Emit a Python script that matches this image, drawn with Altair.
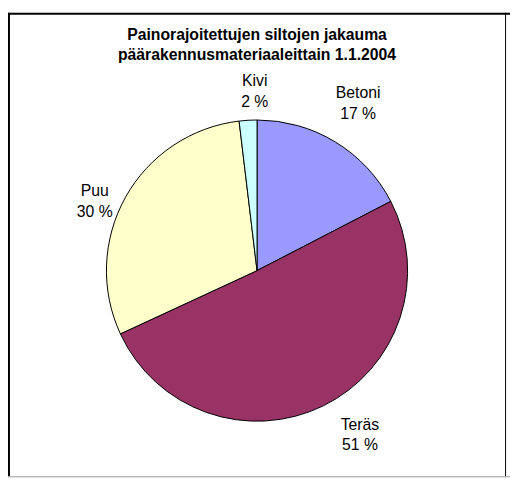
import altair as alt
import pandas as pd

categories = ["Betoni", "Teräs", "Puu", "Kivi"]
shares = [17.4, 50.7, 30.0, 1.9]
labels = ["17 %", "51 %", "30 %", "2 %"]
colors = ["#9999FF", "#993366", "#FFFFCC", "#CCFFFF"]
title_lines = ["Painorajoitettujen siltojen jakauma", "päärakennusmateriaaleittain 1.1.2004"]

df = pd.DataFrame({
    "cat": categories,
    "share": shares,
    "pct": labels,
    "idx": list(range(len(categories))),
})
df["lab"] = df["cat"] + "\n" + df["pct"]

W, H = 510, 474
cx, cy = 253, 263
FONT = "Liberation Sans"

base = alt.Chart(df).encode(
    theta=alt.Theta("share:Q", stack=True),
    order=alt.Order("idx:Q"),
)

pie = base.mark_arc(radius=153, stroke="black", strokeWidth=1).encode(
    x=alt.value(cx), y=alt.value(cy),
    color=alt.Color("cat:N", scale=alt.Scale(domain=categories, range=colors), legend=None),
)

# label nudges (style) relative to the radius-190 anchor
nudges = {"Betoni": (4, -18), "Teräs": (21, -14), "Puu": (1, 12), "Kivi": (9, -3)}
text_layers = []
for c in categories:
    dx, dy = nudges[c]
    text_layers.append(
        base.mark_text(radius=190, font=FONT, fontSize=16, lineBreak="\n",
                       lineHeight=21, color="black", dx=dx, dy=dy).encode(
            x=alt.value(cx), y=alt.value(cy),
            text="lab:N",
            opacity=alt.condition(alt.datum.cat == c, alt.value(1), alt.value(0)),
        )
    )

tdf = pd.DataFrame({"t": ["\n".join(title_lines)]})
title = alt.Chart(tdf).mark_text(font=FONT, fontSize=16, fontWeight="bold",
                                 lineBreak="\n", lineHeight=20, color="black").encode(
    x=alt.value(cx), y=alt.value(24), text="t:N"
)

frame_top = alt.Chart(tdf).mark_rule(color="black", strokeWidth=2).encode(
    y=alt.value(2))
frame_left = alt.Chart(tdf).mark_rule(color="black", strokeWidth=2).encode(
    x=alt.value(1), y=alt.value(1), y2=alt.value(472))
frame_right = alt.Chart(tdf).mark_rule(color="black", strokeWidth=1).encode(
    x=alt.value(505.5), y=alt.value(1), y2=alt.value(472))
frame_bottom = alt.Chart(tdf).mark_rule(color="#999999", strokeWidth=1).encode(
    x=alt.value(0), x2=alt.value(W), y=alt.value(472.5))

chart = alt.layer(pie, *text_layers, title, frame_top, frame_left, frame_right, frame_bottom).properties(
    width=W, height=H, autosize=alt.AutoSizeParams(type="none"), padding=0
).configure_view(stroke=None)

chart.save("out.html", embed_options={"renderer": "svg", "actions": False})
